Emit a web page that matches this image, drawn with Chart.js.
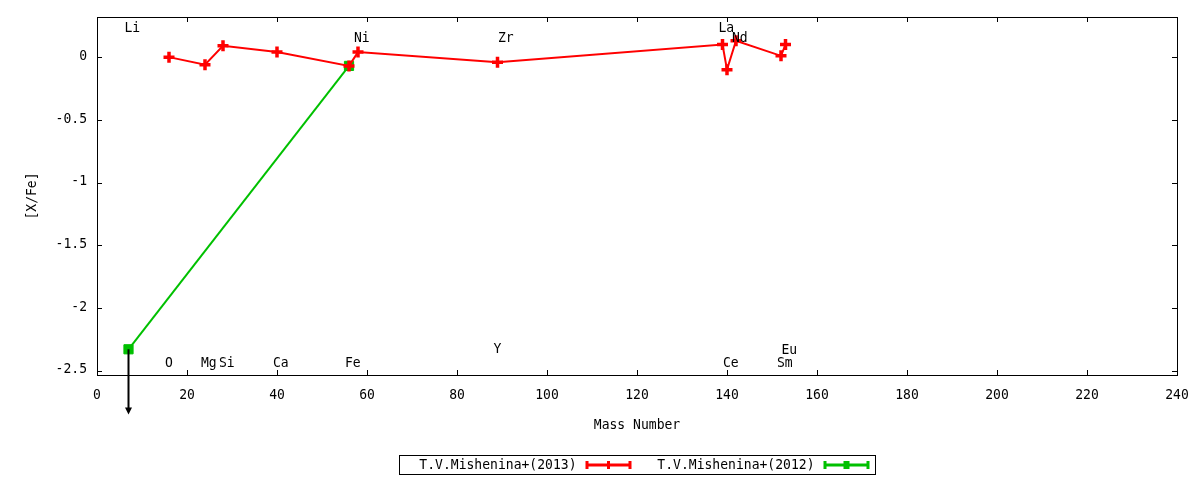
<!DOCTYPE html>
<html>
<head>
<meta charset="utf-8">
<script src="https://cdn.jsdelivr.net/npm/chart.js@4.4.1/dist/chart.umd.min.js"></script>
<style>
  html, body { margin: 0; background: #fff; }
  #wrap { width: 1200px; height: 480px; }
</style>
</head>
<body>
<div id="wrap"><canvas id="abund"></canvas></div>
<script>
// axis ticks
const X_TICKS = [0, 20, 40, 60, 80, 100, 120, 140, 160, 180, 200, 220, 240];
const Y_TICKS = [-2.5, -2, -1.5, -1, -0.5, 0];

// T.V.Mishenina+(2013)
const RED_LABEL = "T.V.Mishenina+(2013)";
const RED_MASS = [16, 24, 28, 40, 56, 58, 89, 139, 140, 142, 152, 153];
const RED_XFE = [0.00, -0.06, 0.09, 0.04, -0.07, 0.04, -0.04, 0.10, -0.10, 0.13, 0.01, 0.10];

// T.V.Mishenina+(2012)
const GREEN_LABEL = "T.V.Mishenina+(2012)";
const GREEN_MASS = [7, 56];
const GREEN_XFE = [-2.33, -0.07];
const GREEN_UPPER = [true, false]; // upper limit -> down arrow

// element names written in the plot
const ELEM_NAME = ["Li", "O", "Mg", "Si", "Ca", "Fe", "Ni", "Zr", "Y", "La", "Ce", "Nd", "Sm", "Eu"];
const ELEM_MASS = [7, 16, 24, 28, 40, 56, 58, 90, 89, 139, 140, 142, 152, 153];
const ELEM_YPOS = [0.23, -2.44, -2.44, -2.44, -2.44, -2.44, 0.15, 0.15, -2.33, 0.23, -2.44, 0.15, -2.44, -2.34];

const X_TITLE = "Mass Number";
const Y_TITLE = "[X/Fe]";

const FONT = '14.5px "DejaVu Sans Mono", monospace';
const SX = 0.9; // narrow the glyphs a little, like the gnuplot png font
const RED = "#ff0000";
const GREEN = "#00c000";
const ARROW_DROP = 0.52;

const toXY = (xs, ys) => xs.map((m, i) => ({ x: m, y: ys[i] }));

function txt(ctx, s, x, y, align, rot) {
  ctx.save();
  ctx.translate(x, y);
  if (rot) ctx.rotate(rot);
  ctx.scale(SX, 1);
  ctx.textAlign = align;
  ctx.fillText(s, 0, 0);
  ctx.restore();
}

const gnuplotLook = {
  id: "gnuplotLook",
  beforeDatasetsDraw(chart) {
    const { ctx, chartArea: a, scales: { x, y } } = chart;
    ctx.save();
    ctx.strokeStyle = "#000";
    ctx.lineWidth = 1;
    ctx.beginPath();
    for (const v of X_TICKS) {
      const px = Math.round(x.getPixelForValue(v)) + 0.5;
      ctx.moveTo(px, a.bottom); ctx.lineTo(px, a.bottom - 5);
      ctx.moveTo(px, a.top); ctx.lineTo(px, a.top + 5);
    }
    for (const v of Y_TICKS) {
      const py = Math.round(y.getPixelForValue(v)) + 0.5;
      ctx.moveTo(a.left, py); ctx.lineTo(a.left + 5, py);
      ctx.moveTo(a.right, py); ctx.lineTo(a.right - 5, py);
    }
    ctx.stroke();
    ctx.strokeRect(Math.round(a.left) + 0.5, Math.round(a.top) + 0.5,
      Math.round(a.right - a.left), Math.round(a.bottom - a.top));

    // tick labels and axis titles
    ctx.font = FONT;
    ctx.fillStyle = "#000";
    ctx.textBaseline = "middle";
    for (const v of X_TICKS) txt(ctx, String(v), x.getPixelForValue(v), a.bottom + 20, "center");
    for (const v of Y_TICKS) txt(ctx, String(v), a.left - 10, y.getPixelForValue(v) - 1, "right");
    txt(ctx, X_TITLE, (a.left + a.right) / 2, a.bottom + 50, "center");
    txt(ctx, Y_TITLE, 32, (a.top + a.bottom) / 2, "center", -Math.PI / 2);
    ctx.restore();
  },
  afterDatasetsDraw(chart) {
    const { ctx, chartArea: a, scales: { x, y } } = chart;
    ctx.save();
    // element labels
    ctx.font = FONT;
    ctx.fillStyle = "#000";
    ctx.textBaseline = "middle";
    ELEM_NAME.forEach((n, i) => {
      txt(ctx, n, x.getPixelForValue(ELEM_MASS[i]) - 4, y.getPixelForValue(ELEM_YPOS[i]), "left");
    });
    // upper-limit arrows
    ctx.strokeStyle = "#000";
    ctx.fillStyle = "#000";
    ctx.lineWidth = 2;
    GREEN_MASS.forEach((m, i) => {
      if (!GREEN_UPPER[i]) return;
      const px = x.getPixelForValue(m);
      const y0 = y.getPixelForValue(GREEN_XFE[i]);
      const y1 = y.getPixelForValue(GREEN_XFE[i] - ARROW_DROP);
      ctx.beginPath();
      ctx.moveTo(px, y0); ctx.lineTo(px, y1 - 6);
      ctx.stroke();
      ctx.beginPath();
      ctx.moveTo(px - 3.5, y1 - 7); ctx.lineTo(px + 3.5, y1 - 7); ctx.lineTo(px, y1);
      ctx.closePath();
      ctx.fill();
    });
    // key box
    const sets = chart.data.datasets;
    const entryW = 238;
    const cx = (a.left + a.right) / 2;
    const bx = Math.round(cx - entryW * sets.length / 2) + 0.5;
    const by = 455.5, bh = 19, ky = by + bh / 2;
    ctx.lineWidth = 1;
    ctx.strokeRect(bx, by, entryW * sets.length, bh);
    sets.forEach((ds, i) => {
      const s = bx + i * entryW;
      ctx.fillStyle = "#000";
      txt(ctx, ds.label, s + 177, ky, "right");
      const x0 = s + 187, x1 = s + 231;
      ctx.strokeStyle = ds.borderColor;
      ctx.fillStyle = ds.borderColor;
      ctx.lineWidth = 3;
      ctx.beginPath();
      ctx.moveTo(x0, ky); ctx.lineTo(x1, ky);
      ctx.stroke();
      ctx.fillRect(x0 - 1, ky - 4, 3, 8);
      ctx.fillRect(x1 - 2, ky - 4, 3, 8);
      const mid = (x0 + x1) / 2;
      if (ds.pointStyle === "rect") ctx.fillRect(mid - 3, ky - 4, 6, 8);
      else ctx.fillRect(mid - 1.5, ky - 4, 3, 8);
    });
    ctx.restore();
  }
};

new Chart(document.getElementById("abund"), {
  type: "scatter",
  data: {
    datasets: [
      {
        label: RED_LABEL,
        data: toXY(RED_MASS, RED_XFE),
        showLine: true,
        borderColor: RED,
        backgroundColor: RED,
        borderWidth: 2,
        pointStyle: "cross",
        pointRadius: 5.5,
        pointBorderWidth: 3.5,
        pointBorderColor: RED,
      },
      {
        label: GREEN_LABEL,
        data: toXY(GREEN_MASS, GREEN_XFE),
        showLine: true,
        borderColor: GREEN,
        backgroundColor: GREEN,
        borderWidth: 2,
        pointStyle: "rect",
        pointRadius: 6.5,
        pointBorderWidth: 1,
        pointBackgroundColor: GREEN,
        pointBorderColor: GREEN,
      },
    ],
  },
  options: {
    responsive: true,
    maintainAspectRatio: false,
    animation: false,
    events: [],
    layout: { padding: { top: 17, right: 23, left: 0, bottom: 0 } },
    plugins: { legend: { display: false }, tooltip: { enabled: false } },
    scales: {
      x: {
        type: "linear",
        min: 0,
        max: 240,
        grid: { display: false },
        border: { display: false },
        afterBuildTicks: (s) => { s.ticks = X_TICKS.map((v) => ({ value: v })); },
        afterFit: (s) => { s.height = 105; },
        ticks: { display: false },
      },
      y: {
        type: "linear",
        min: -2.535,
        max: 0.32,
        grid: { display: false },
        border: { display: false },
        afterBuildTicks: (s) => { s.ticks = Y_TICKS.map((v) => ({ value: v })); },
        afterFit: (s) => { s.width = 97; },
        ticks: { display: false },
      },
    },
  },
  plugins: [gnuplotLook],
});
</script>
</body>
</html>
